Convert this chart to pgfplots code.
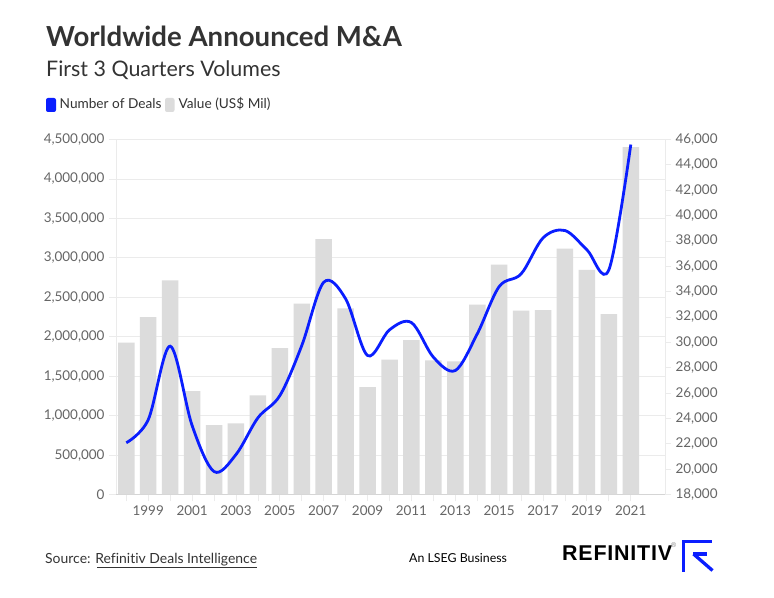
\documentclass[border=0pt]{standalone}
\usepackage{pgfplots}
\pgfplotsset{compat=1.18}
\usepackage{fontspec}
\setmainfont{Lato}[Ligatures={NoCommon}]
\newfontfamily\logofont{Liberation Sans}
\definecolor{dealblue}{HTML}{0A1EFF}
\definecolor{bargray}{HTML}{DCDCDC}
\definecolor{gridgray}{HTML}{EBEBEB}
\definecolor{ticktext}{HTML}{666666}
\definecolor{darktext}{HTML}{333333}
\pgfplotstableread{
year value
1998 1925000
1999 2248000
2000 2713000
2001 1310000
2002 878000
2003 900000
2004 1255000
2005 1855000
2006 2420000
2007 3236000
2008 2358000
2009 1360000
2010 1711000
2011 1956000
2012 1699000
2013 1686000
2014 2408000
2015 2915000
2016 2332000
2017 2336000
2018 3118000
2019 2848000
2020 2286000
2021 4402000
}\valuetable
\pgfplotstableread{
year deals
1998 22080
1999 23900
2000 29700
2001 23440
2002 19810
2003 21150
2004 24050
2005 25800
2006 29750
2007 34740
2008 33430
2009 28960
2010 30990
2011 31560
2012 28830
2013 27780
2014 30670
2015 34400
2016 35400
2017 38240
2018 38820
2019 37300
2020 35720
2021 45600
}\dealtable
\begin{document}
\begin{tikzpicture}[x=1bp,y=1bp]
\fill[white] (0,0) rectangle (774,598);
\useasboundingbox (0,0) rectangle (774,598);
\pgfplotsset{
  common/.style={
    at={(116bp,103.5bp)}, anchor=south west, scale only axis,
    width=549bp, height=355bp,
    xmin=1997.53, xmax=2022.56,
    tick label style={font=\fontsize{13.5}{15}\selectfont, text=ticktext},
    /pgf/number format/assume math mode=true,
    /pgf/number format/fixed,
    /pgf/number format/1000 sep={,},
    tick align=outside,
  }
}
\begin{axis}[common,
  ymin=0, ymax=4500000,
  axis x line*=bottom, axis y line*=left,
  x axis line style={draw=gridgray!80!gray, line width=0.8bp},
  y axis line style={draw=gridgray, line width=0.8bp},
  ytick={0,500000,...,4500000},
  scaled y ticks=false,
  ymajorgrids, grid style={draw=gridgray, line width=0.8bp},
  xtick={1998,...,2021},
  xticklabels={,1999,,2001,,2003,,2005,,2007,,2009,,2011,,2013,,2015,,2017,,2019,,2021},
  major tick length=7bp,
  x tick style={draw=gridgray, line width=0.8bp},
  y tick style={draw=gridgray, line width=0.8bp},
  xticklabel style={yshift=-1bp},
  yticklabel style={xshift=-1bp},
]
\addplot[ybar, bar width=16.5bp, fill=bargray, draw=none] table[x=year, y=value] {\valuetable};
\end{axis}
\begin{axis}[common,
  ymin=18000, ymax=46000,
  axis x line=none, axis y line*=right,
  y axis line style={draw=gridgray, line width=0.8bp},
  ytick={18000,20000,...,46000},
  scaled y ticks=false,
  yticklabel style={xshift=1bp},
  major tick length=6bp,
  y tick style={draw=gridgray, line width=0.8bp},
]
\addplot[dealblue, line width=2.8bp, smooth, tension=0.55] table[x=year, y=deals] {\dealtable};
\end{axis}
% titles
\node[anchor=base west, inner sep=0, text=darktext, font=\fontsize{27.7}{32}\selectfont\bfseries] at (46,551) {Worldwide Announced M\&A};
\node[anchor=base west, inner sep=0, text=darktext, font=\fontsize{21.5}{25}\selectfont] at (46,521) {First 3 Quarters Volumes};
% legend
\fill[dealblue, rounded corners=2bp] (46,486) rectangle (56,500);
\node[anchor=base west, inner sep=0, text=darktext, font=\fontsize{13.7}{16}\selectfont] at (59.5,489.5) {Number of Deals};
\fill[bargray, rounded corners=2bp] (165,486) rectangle (174.5,500);
\node[anchor=base west, inner sep=0, text=darktext, font=\fontsize{13.7}{16}\selectfont] at (178.5,489.5) {Value (US\$ Mil)};
% footer
\node[anchor=base west, inner sep=0, text=darktext, font=\fontsize{14}{16}\selectfont] at (45,34.5) {Source: Refinitiv Deals Intelligence};
\draw[darktext, line width=0.9bp] (97,30.5) -- (257,30.5);
\node[anchor=base west, inner sep=0, text=black, font=\fontsize{12.4}{14}\selectfont] at (409,35) {An LSEG Business};
\node[anchor=base west, inner sep=0, text=black, font=\logofont\fontsize{21.5}{24}\selectfont\bfseries] at (562,37) {R\kern0.8bp E\kern0.8bp F\kern0.8bp I\kern0.8bp N\kern0.8bp I\kern0.8bp T\kern0.8bp I\kern0.8bp V};
\node[anchor=base west, inner sep=0, text=gray, font=\logofont\fontsize{7}{8}\selectfont] at (671,50) {®};
% logo mark
\fill[dealblue] (681.7,26.3) rectangle (685,58);
\fill[dealblue] (681.7,54.7) rectangle (712.3,58);
\draw[dealblue, line width=3.3bp] (693,44) -- (707,44);
\draw[dealblue, line width=3.3bp] (693.5,44) -- (712.5,27.5);
\end{tikzpicture}
\end{document}
